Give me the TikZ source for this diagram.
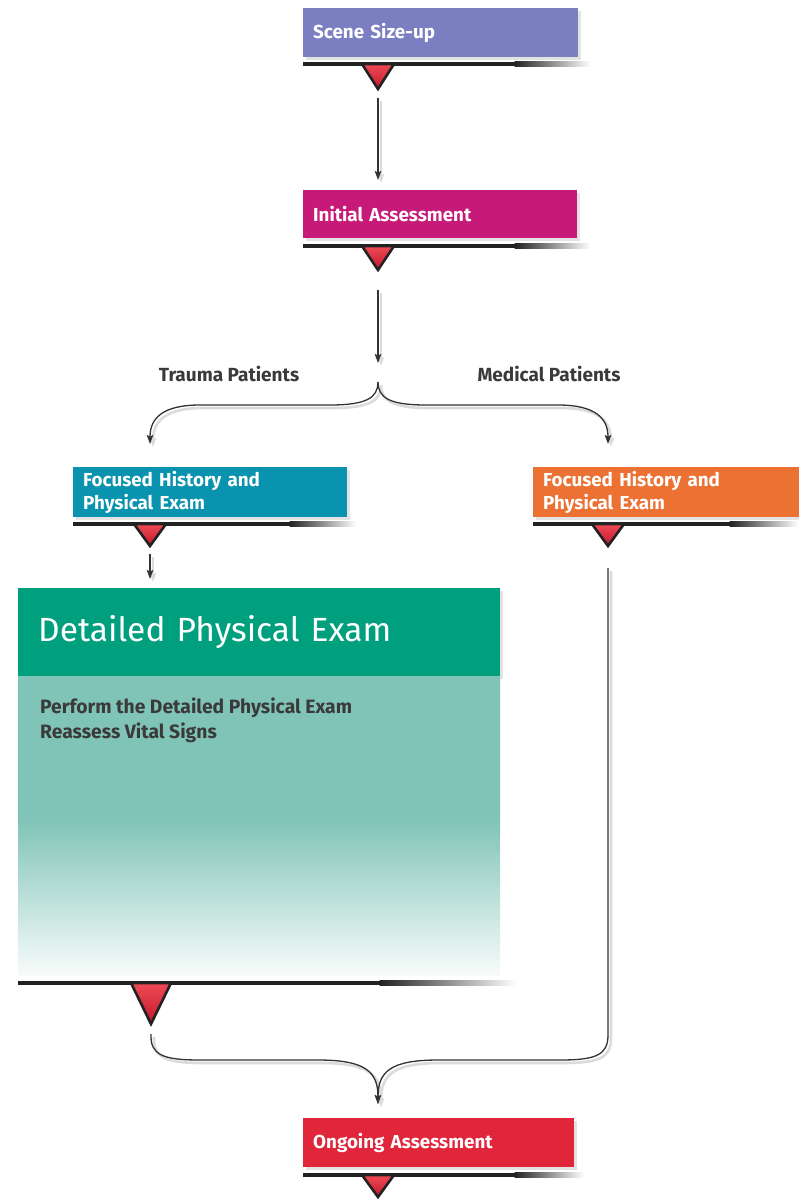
\documentclass[tikz,border=0pt]{standalone}
\usepackage{fontspec}
\setmainfont{Fira Sans}
\usetikzlibrary{arrows.meta,shadows}
\definecolor{scenecol}{HTML}{7B7FC2}
\definecolor{initcol}{HTML}{C71A78}
\definecolor{traumacol}{HTML}{0A93AE}
\definecolor{medcol}{HTML}{EC7234}
\definecolor{hdrcol}{HTML}{00A07F}
\definecolor{bodycol}{HTML}{80C4B7}
\definecolor{ongoingcol}{HTML}{E1253A}
\definecolor{barcol}{HTML}{222222}
\definecolor{tiplight}{HTML}{F04A55}
\definecolor{tipdark}{HTML}{C0182B}
\definecolor{textdark}{HTML}{3A3A3A}
\definecolor{arrcol}{HTML}{333333}
\pgfdeclareverticalshading{bodyfade}{100bp}{color(0bp)=(white); color(25bp)=(white!94!bodycol); color(51bp)=(bodycol); color(100bp)=(bodycol)}
\newcommand{\fadebar}[4]{%
  \fill[barcol] (#1,#4-2.2) rectangle (#2,#4+2.2);
  \shade[left color=barcol,right color=white] (#2-0.5,#4-2.2) rectangle (#3,#4+2.2);}
\newcommand{\redtip}[5]{%
  \shadedraw[tipstyle] (#2-#4,#3) -- (#2+#4,#3) -- (#2,#5) -- cycle;
  \coordinate (#1) at (#2,#5);}
\begin{document}
\begin{tikzpicture}[x=1pt,y=-1pt,
  box/.style={anchor=north west, inner xsep=10pt, inner ysep=0pt, align=left,
    text=white, font=\bfseries\fontsize{18.8}{23}\selectfont,
    drop shadow={shadow xshift=3pt, shadow yshift=-3pt, opacity=0.22}},
  tipstyle/.style={top color=tiplight, bottom color=tipdark, draw=barcol, line width=2.6pt, line join=miter},
  arr/.style={draw=arrcol, line width=1.3pt, -{Stealth[length=9pt,width=6.5pt,inset=1.5pt]},
    preaction={draw=black!14, line width=2.6pt, transform canvas={xshift=3pt,yshift=-3pt}}},
  lab/.style={text=textdark, font=\bfseries\fontsize{19}{22}\selectfont}]
\useasboundingbox (0,0) rectangle (798,1199);

% Scene size-up
\node[box, fill=scenecol, minimum width=275pt, minimum height=49pt, text width=255pt] (scene) at (303,8) {Scene Size-up};
\fadebar{303}{515}{590}{64}
\redtip{sceneTip}{378}{64}{16}{89}

% Initial assessment
\node[box, fill=initcol, minimum width=274pt, minimum height=48pt, text width=254pt] (initial) at (303,190) {Initial Assessment};
\fadebar{303}{515}{590}{246}
\redtip{initTip}{378}{246}{16}{270}

\draw[arr] ([yshift=-9pt]sceneTip) -- ([yshift=10pt]initial.north -| sceneTip);
\coordinate (split) at (378,363);
\draw[arr] ([yshift=-20pt]initTip) -- (split);

% branch labels
\node[lab] (tlab) at (229,374) {Trauma Patients};
\node[lab] (mlab) at (549,374) {Medical Patients};

% Focused boxes
\node[box, fill=traumacol, minimum width=274pt, minimum height=50pt, text width=254pt] (trauma) at (73,467) {Focused History and\\Physical Exam};
\fadebar{73}{290}{356}{524}
\redtip{trTip}{150}{524}{16}{546}

\node[box, fill=medcol, minimum width=266pt, minimum height=50pt, text width=246pt] (medical) at (533,467) {Focused History and\\Physical Exam};
\fadebar{533}{730}{798}{524}
\redtip{medTip}{608}{524}{16}{546}

\coordinate (junc) at (378,382);
\coordinate (lend) at (150,444);
\coordinate (rend) at (608,444);
\draw[arr] (junc) .. controls (378,398) and (366,405) .. (330,405) -- (200,405) .. controls (163,405) and (150,418) .. (lend);
\draw[arr] (junc) .. controls (378,398) and (390,405) .. (426,405) -- (558,405) .. controls (595,405) and (608,418) .. (rend);

% Detailed physical exam
\node[anchor=north west, fill=hdrcol, minimum width=482pt, minimum height=88pt, inner xsep=20pt, inner ysep=0pt,
  text width=442pt, align=left, text=white, font=\fontsize{33.5}{38}\selectfont,
  drop shadow={shadow xshift=3pt, shadow yshift=-3pt, opacity=0.22}] (detail) at (18,588) {Detailed Physical Exam};
\node[anchor=north west, shading=bodyfade, minimum width=482pt, minimum height=299pt, inner sep=0pt] (detailbody) at (18,676) {};
\node[anchor=north west, text=textdark, align=left, inner sep=0pt, font=\bfseries\fontsize{19.3}{25}\selectfont] (detailtext) at (40,698)
  {Perform the Detailed Physical Exam\\Reassess Vital Signs};
\fadebar{18}{380}{516}{983}
\redtip{dpTip}{151}{983}{20}{1024}

\draw[arr] ([yshift=-8pt]trTip) -- ([yshift=9pt]detail.north -| trTip);

% Ongoing assessment
\node[box, fill=ongoingcol, minimum width=271pt, minimum height=49pt, text width=251pt] (ongoing) at (303,1118) {Ongoing Assessment};
\fadebar{303}{515}{584}{1175}
\redtip{ongTip}{378}{1175}{16}{1197}

\coordinate (mend) at (378,1104);
\draw[arr] ([yshift=-10pt]dpTip) .. controls (150,1055) and (163,1060) .. (200,1060) -- (318,1060) .. controls (366,1060) and (378,1072) .. (mend);
\draw[arr] ([yshift=-22pt]medTip) -- (608,1035) .. controls (608,1055) and (596,1060) .. (560,1060) -- (438,1060) .. controls (390,1060) and (378,1072) .. (mend);
\end{tikzpicture}
\end{document}
